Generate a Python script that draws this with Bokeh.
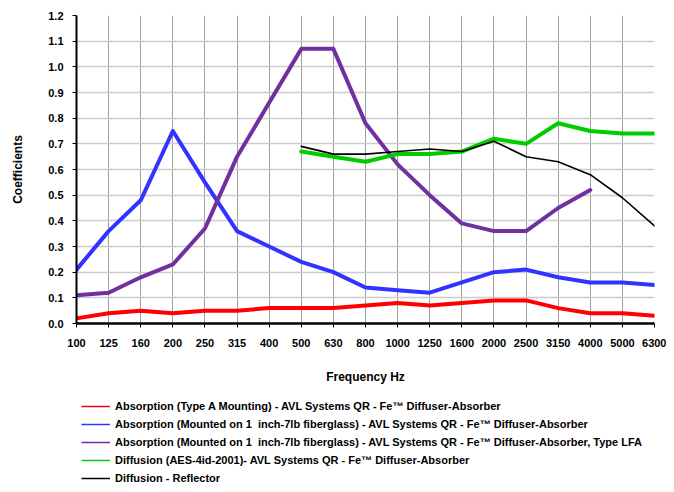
import math
from bokeh.plotting import figure
from bokeh.layouts import column
from bokeh.models import (Range1d, FixedTicker, Legend, LegendItem)
from bokeh.embed import file_html
from bokeh.resources import INLINE

freqs = ["100", "125", "160", "200", "250", "315", "400", "500", "630", "800", "1000",
         "1250", "1600", "2000", "2500", "3150", "4000", "5000", "6300"]
y_ticks = [0.0, 0.1, 0.2, 0.3, 0.4, 0.5, 0.6, 0.7, 0.8, 0.9, 1.0, 1.1, 1.2]

absorption_a = [0.02, 0.04, 0.05, 0.04, 0.05, 0.05, 0.06, 0.06, 0.06, 0.07, 0.08,
                0.07, 0.08, 0.09, 0.09, 0.06, 0.04, 0.04, 0.03]
absorption_fg = [0.21, 0.36, 0.48, 0.75, 0.55, 0.36, 0.30, 0.24, 0.20, 0.14, 0.13,
                 0.12, 0.16, 0.20, 0.21, 0.18, 0.16, 0.16, 0.15]
absorption_lfa = [0.11, 0.12, 0.18, 0.23, 0.37, 0.65, 0.86, 1.07, 1.07, 0.78, 0.62,
                  0.50, 0.39, 0.36, 0.36, 0.45, 0.52, None, None]
diffusion_qr = [None, None, None, None, None, None, None, 0.67, 0.65, 0.63, 0.66,
                0.66, 0.67, 0.72, 0.70, 0.78, 0.75, 0.74, 0.74]
diffusion_reflector = [None, None, None, None, None, None, None, 0.69, 0.66, 0.66, 0.67,
                       0.68, 0.67, 0.71, 0.65, 0.63, 0.58, 0.49, 0.38]

labels = [
    "Absorption (Type A Mounting) - AVL Systems QR - Fe\u2122 Diffuser-Absorber",
    "Absorption (Mounted on 1  inch-7lb fiberglass) - AVL Systems QR - Fe\u2122 Diffuser-Absorber",
    "Absorption (Mounted on 1  inch-7lb fiberglass) - AVL Systems QR - Fe\u2122 Diffuser-Absorber, Type LFA",
    "Diffusion (AES-4id-2001)- AVL Systems QR - Fe\u2122 Diffuser-Absorber",
    "Diffusion - Reflector",
]
series = [absorption_a, absorption_fg, absorption_lfa, diffusion_qr, diffusion_reflector]
colors = ["#ff0000", "#3333ff", "#7030a0", "#00cc00", "#000000"]
widths = [4, 4, 4, 4, 1.6]

FONT = "Liberation Sans"

p = figure(width=666, height=390, output_backend="svg", toolbar_location=None,
           x_range=Range1d(0, len(freqs) - 1), y_range=Range1d(0, 1.2),
           min_border_left=76, min_border_right=12, min_border_top=15, min_border_bottom=67)
p.outline_line_color = None

xs = list(range(len(freqs)))
for vals, c, w in zip(series, colors, widths):
    ys = [math.nan if v is None else v for v in vals]
    p.line(xs, ys, line_color=c, line_width=w, line_join="round", line_cap="round")

# x axis
p.xaxis.ticker = FixedTicker(ticks=xs)
p.xaxis.major_label_overrides = {i: f for i, f in enumerate(freqs)}
p.xaxis.axis_label = "Frequency Hz"
p.xaxis.axis_line_width = 2.5
p.xaxis.major_tick_out = 4
p.xaxis.major_tick_in = 0
p.xaxis.minor_tick_line_color = None
p.xaxis.major_label_standoff = 11
p.xaxis.axis_label_standoff = 20

# y axis
p.yaxis.ticker = FixedTicker(ticks=y_ticks)
p.yaxis.major_label_overrides = {v: f"{v:.1f}" for v in y_ticks}
p.yaxis.axis_label = "Coefficients"
p.yaxis.axis_line_width = 2
p.yaxis.major_tick_out = 4
p.yaxis.major_tick_in = 0
p.yaxis.minor_tick_line_color = None
p.yaxis.major_label_standoff = 9
p.yaxis.axis_label_standoff = 20

for ax in (p.xaxis, p.yaxis):
    ax.axis_line_color = "black"
    ax.major_tick_line_color = "black"
    ax.major_label_text_font = FONT
    ax.major_label_text_font_size = "11px"
    ax.major_label_text_font_style = "bold"
    ax.major_label_text_color = "black"
    ax.axis_label_text_font = FONT
    ax.axis_label_text_font_size = "12px"
    ax.axis_label_text_font_style = "bold"
    ax.axis_label_text_color = "black"

p.xgrid.grid_line_color = "#a0a0a0"
p.xgrid.grid_line_width = 1
p.ygrid.grid_line_color = "#cccccc"
p.ygrid.grid_line_width = 1.5

# legend panel below the chart (its frame is aligned with the chart frame)
lf = figure(width=666, height=94, output_backend="svg", toolbar_location=None,
            x_range=Range1d(0, 1), y_range=Range1d(0, 1), min_border=0)
lf.axis.visible = False
lf.grid.visible = False
lf.outline_line_color = None

items = []
for lab, c in zip(labels, colors):
    # points lie outside the visible range: only the legend swatch shows
    r = lf.line([5, 6], [5, 6], line_color=c, line_width=1.5)
    items.append(LegendItem(label=lab, renderers=[r]))

legend = Legend(items=items, location=(5, -3), orientation="vertical",
                padding=0, margin=0, spacing=0, label_height=18, glyph_height=18,
                glyph_width=29, label_standoff=5,
                label_text_font=FONT, label_text_font_size="11px", label_text_font_style="bold",
                label_text_color="#000000",
                border_line_color=None, background_fill_alpha=0)
lf.add_layout(legend, "center")

layout = column(p, lf, spacing=0)
open("out.html", "w").write(file_html(layout, INLINE))
